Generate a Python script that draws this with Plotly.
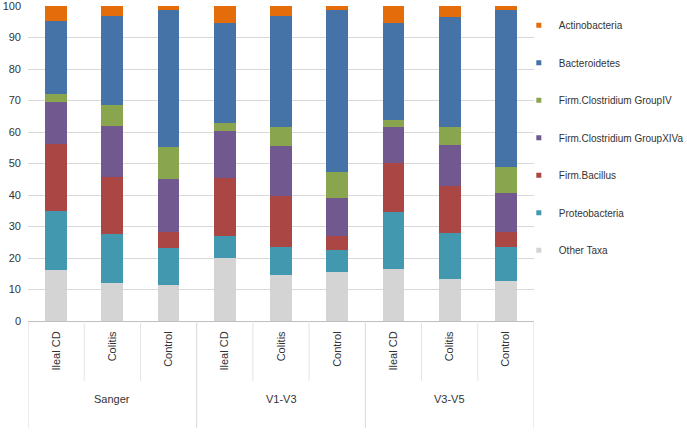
import plotly.graph_objects as go

groups = ["Sanger", "V1-V3", "V3-V5"]
subgroups = ["Ileal CD", "Colitis", "Control"]

taxa = ["Other Taxa", "Proteobacteria", "Firm.Bacillus", "Firm.Clostridium GroupXIVa",
        "Firm.Clostridium GroupIV", "Bacteroidetes", "Actinobacteria"]
colors = ["#D4D4D4", "#4198AF", "#AA4643", "#71588F", "#89A54E", "#4572A7", "#E46C0A"]

# per-bar values (order: Sanger IlealCD, Colitis, Control, V1-V3 ..., V3-V5 ...)
other_taxa     = [16.2, 12.1, 11.4, 19.9, 14.5, 15.6, 16.6, 13.5, 12.7]
proteobacteria = [18.7, 15.6, 11.9, 7.1, 8.9, 6.8, 18.0, 14.5, 10.8]
firm_bacillus  = [21.3, 17.9, 5.0, 18.3, 16.4, 4.6, 15.7, 14.9, 4.7]
firm_xiva      = [13.4, 16.4, 16.8, 14.9, 15.9, 12.2, 11.4, 13.1, 12.5]
firm_iv        = [2.5, 6.6, 10.2, 2.7, 6.0, 8.2, 2.1, 5.7, 8.3]
bacteroidetes  = [23.1, 28.4, 43.4, 31.9, 35.3, 51.4, 30.7, 34.7, 49.8]
actinobacteria = [4.8, 3.0, 1.3, 5.2, 3.0, 1.2, 5.5, 3.6, 1.2]

series = [other_taxa, proteobacteria, firm_bacillus, firm_xiva, firm_iv, bacteroidetes, actinobacteria]

yticks = list(range(0, 101, 10))

n = len(groups) * len(subgroups)
xpos = list(range(n))
inner_labels = [s for g in groups for s in subgroups]

fig = go.Figure()
for name, vals, col in zip(taxa, series, colors):
    fig.add_trace(go.Bar(x=xpos, y=vals, name=name, marker=dict(color=col, line=dict(width=0)),
                         showlegend=False))
# legend entries (small square keys), top to bottom: Actinobacteria ... Other Taxa
for rank, (name, col) in enumerate(zip(reversed(taxa), reversed(colors))):
    fig.add_trace(go.Scatter(x=[None], y=[None], mode="markers", name=name,
                             marker=dict(symbol="square", size=5, color=col),
                             legendgroup=name, legendrank=rank + 1))

shapes = []
ns = len(subgroups)
for gi in range(len(groups) + 1):
    xb = gi * ns - 0.5
    shapes.append(dict(type="line", xref="x", yref="paper", x0=xb, x1=xb, y0=0, y1=-0.34,
                       line=dict(color="#D9D9D9", width=1)))
for gi in range(len(groups)):
    for k in range(1, ns):
        xb = gi * ns + k - 0.5
        shapes.append(dict(type="line", xref="x", yref="paper", x0=xb, x1=xb, y0=0, y1=-0.19,
                           line=dict(color="#E3E3E3", width=1)))

annotations = []
for gi, g in enumerate(groups):
    annotations.append(dict(x=gi * ns + (ns - 1) / 2, y=-0.247, xref="x", yref="paper", text=g,
                            showarrow=False, xanchor="center", yanchor="middle",
                            font=dict(size=11, color="#333333")))

fig.update_layout(
    width=687, height=432,
    margin=dict(l=28, r=153, t=6, b=111, autoexpand=False),
    barmode="stack", bargap=0.614,
    plot_bgcolor="white", paper_bgcolor="white",
    font=dict(family="Arial, Liberation Sans, sans-serif", size=11, color="#333333"),
    shapes=shapes, annotations=annotations,
    legend=dict(x=0.970, y=0.985, xanchor="left", yanchor="top", traceorder="grouped",
                tracegroupgap=18.5, font=dict(size=10, color="#333333"),
                bgcolor="rgba(0,0,0,0)"),
    xaxis=dict(range=[-0.5, n - 0.5], tickvals=xpos, ticktext=inner_labels, tickangle=-90,
               showgrid=False, zeroline=False, showline=True, linecolor="#BFBFBF", ticks="",
               ticklabelstandoff=5),
    yaxis=dict(range=[0, 100.05], tickvals=yticks, showgrid=True, gridcolor="#D9D9D9",
               zeroline=False, showline=False, ticks="", ticklabelstandoff=6),
)

fig.write_html("out.html", config={"displayModeBar": False},
               post_script="document.body.style.margin='0';")
